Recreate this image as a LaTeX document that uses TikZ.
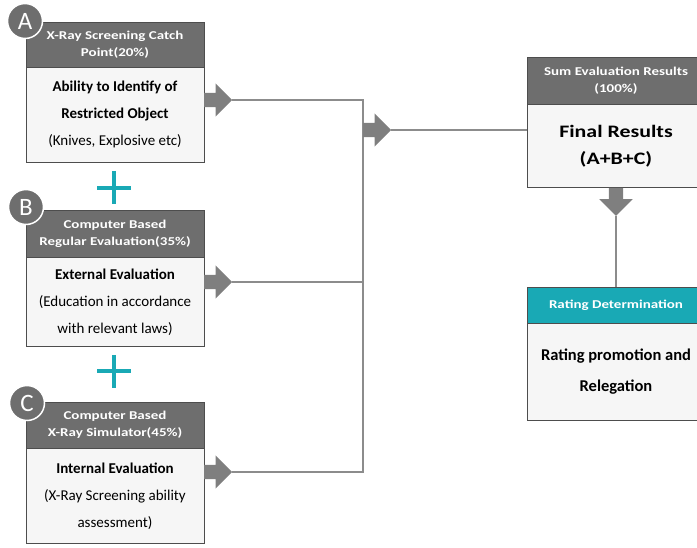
\documentclass[tikz,border=0pt]{standalone}
\usepackage{fontspec}
\setmainfont{Carlito}
\newfontfamily\wideface{Carlito}[FakeStretch=1.25]
\usepackage{tikz}
\usetikzlibrary{positioning, shapes.arrows}
\definecolor{hdrgray}{HTML}{6E6E6E}
\definecolor{bodyfill}{HTML}{F6F6F6}
\definecolor{boxline}{HTML}{4D4D4D}
\definecolor{plusteal}{HTML}{19A9B5}
\definecolor{arrgray}{HTML}{7F7F7F}
\definecolor{linegray}{HTML}{8C8C8C}
\tikzset{
  hdr/.style={draw=boxline, fill=hdrgray, text=white, minimum width=178pt,
    inner sep=0pt, align=center, font=\wideface\bfseries\fontsize{12}{17}\selectfont},
  bdy/.style={draw=boxline, fill=bodyfill, minimum width=178pt, inner sep=0pt,
    align=center, font=\fontsize{15}{27}\selectfont},
  fat/.style={single arrow, fill=arrgray, draw=none, inner xsep=0pt,
    inner ysep=7pt, minimum height=28pt, single arrow head extend=9.5pt},
  tag/.style={circle, fill=hdrgray, draw=white, line width=1.5pt, minimum size=35pt,
    inner sep=0pt, text=white, font=\fontsize{25}{25}\selectfont},
  link/.style={draw=linegray, line width=1.2pt},
  plus/.style={draw=plusteal, line width=3.5pt},
}

\begin{document}
\begin{tikzpicture}[x=1pt, y=-1pt]
\useasboundingbox (0,0) rectangle (697,548);
\clip (0,0) rectangle (697,548);

% ---------------- LEFT: A, B, C ----------------
% A
\node[hdr, minimum height=45pt] (hA) at (115,44.5) {X-Ray Screening Catch\\Point(20\%)};
\node[bdy, minimum height=95pt, below=0pt of hA] (bA)
  {\textbf{Ability to Identify of}\\\textbf{Restricted Object}\\(Knives, Explosive etc)};
\node[tag] (tA) at (25,21) {A};
% B
\node[hdr, minimum height=47pt] (hB) at (115,233.5) {Computer Based\\Regular Evaluation(35\%)};
\node[bdy, minimum height=89pt, below=0pt of hB] (bB)
  {\textbf{External Evaluation}\\(Education in accordance\\with relevant laws)};
\node[tag] (tB) at (26,207) {B};
% C
\node[hdr, minimum height=46pt] (hC) at (115,425) {Computer Based\\X-Ray Simulator(45\%)};
\node[bdy, minimum height=95pt, below=0pt of hC] (bC)
  {\textbf{Internal Evaluation}\\(X-Ray Screening ability\\assessment)};
\node[tag] (tC) at (27,403) {C};
% Plus signs
\draw[plus] (114,171) -- (114,204) (97,188) -- (131,188);
\draw[plus] (114,355) -- (114,388) (97,371) -- (131,371);

% ---------------- RIGHT: Sum and Rating ----------------
\node[hdr, minimum height=47pt] (hS) at (616,80.5) {Sum Evaluation Results\\(100\%)};
\node[bdy, minimum height=83pt, below=0pt of hS, font=\wideface\bfseries\fontsize{17.5}{27}\selectfont] (bS)
  {Final Results\\(A+B+C)};
\node[hdr, fill=plusteal, minimum height=36pt] (hR) at (616,305) {Rating Determination};
\node[bdy, minimum height=97pt, below=0pt of hR, font=\bfseries\fontsize{16.5}{31}\selectfont] (bR)
  {Rating promotion and\\Relegation};

% ---------------- Arrows and links ----------------
\node[fat, anchor=tail] (fA) at (204,100) {};
\node[fat, anchor=tail] (fB) at (204,282) {};
\node[fat, anchor=tail] (fC) at (204,472) {};
\coordinate (jTop) at (363,100);
\coordinate (jBot) at (363,472);
\draw[link] (fA.tip) -- (jTop) -- (jBot) -- (fC.tip);
\draw[link] (fB.tip) -- (fB.tip -| jTop);
\node[fat, anchor=tail] (fS) at (363,130) {};
\draw[link] (fS.tip) -- (fS.tip -| bS.west);
\node[fat, anchor=tail, rotate=-90] (fD) at (bS.south) {};
\draw[link] (fD.tip) -- (hR.north);
\end{tikzpicture}
\end{document}
